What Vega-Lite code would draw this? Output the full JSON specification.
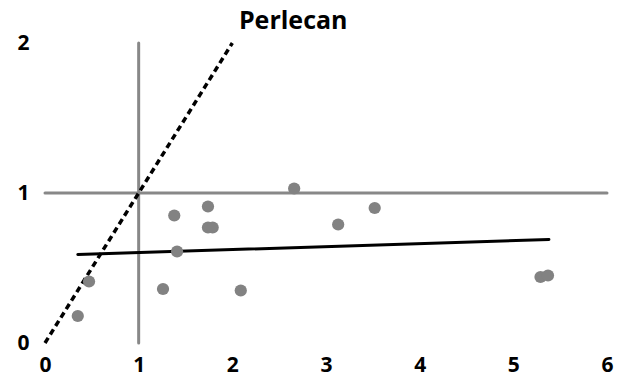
{
  "$schema": "https://vega.github.io/schema/vega-lite/v6.json",
  "autosize": {"type": "none"},
  "width": 562,
  "height": 330,
  "padding": {"left": 45, "top": 13, "right": 23, "bottom": 49},
  "config": {"view": {"stroke": null}, "font": "Open Sans"},
  "datasets": {
    "points": [
      {"x": 0.35, "y": 0.18}, {"x": 0.47, "y": 0.41}, {"x": 1.26, "y": 0.36},
      {"x": 1.38, "y": 0.85}, {"x": 1.41, "y": 0.61}, {"x": 1.74, "y": 0.91},
      {"x": 1.74, "y": 0.77}, {"x": 1.79, "y": 0.77}, {"x": 2.09, "y": 0.35},
      {"x": 2.66, "y": 1.03}, {"x": 3.13, "y": 0.79}, {"x": 3.52, "y": 0.90},
      {"x": 5.29, "y": 0.44}, {"x": 5.37, "y": 0.45}
    ],
    "vrule": [{"x": 1, "y": 0, "y2": 2}],
    "hrule": [{"x": 0, "x2": 6, "y": 1}],
    "diag": [{"x": 0, "y": 0}, {"x": 2, "y": 2}],
    "fit": [{"x": 0.35, "y": 0.59}, {"x": 5.38, "y": 0.69}],
    "label": [{"x": 2.65, "y": 2.15, "text": "Perlecan"}]
  },
  "layer": [
    {
      "data": {"name": "vrule"},
      "mark": {"type": "rule", "color": "#888888", "strokeWidth": 3, "strokeCap": "round"},
      "encoding": {
        "x": {"field": "x", "type": "quantitative", "scale": {"domain": [0, 6], "nice": false},
          "axis": {"values": [0, 1, 2, 3, 4, 5, 6], "format": "d", "domain": false, "ticks": false, "grid": false, "title": null,
            "labelFontSize": 21, "labelFontWeight": "bold", "labelColor": "#000000", "labelPadding": 11, "labelFlush": false}},
        "y": {"field": "y", "type": "quantitative", "scale": {"domain": [0, 2.2], "nice": false},
          "axis": {"values": [0, 1, 2], "format": "d", "domain": false, "ticks": false, "grid": false, "title": null,
            "labelFontSize": 21, "labelFontWeight": "bold", "labelColor": "#000000", "labelPadding": 16, "labelFlush": false}},
        "y2": {"field": "y2"}
      }
    },
    {
      "data": {"name": "hrule"},
      "mark": {"type": "rule", "color": "#888888", "strokeWidth": 3, "strokeCap": "round"},
      "encoding": {
        "x": {"field": "x", "type": "quantitative"},
        "x2": {"field": "x2"},
        "y": {"field": "y", "type": "quantitative"}
      }
    },
    {
      "data": {"name": "diag"},
      "mark": {"type": "line", "color": "#000000", "strokeWidth": 3.5, "strokeDash": [6, 4]},
      "encoding": {
        "x": {"field": "x", "type": "quantitative"},
        "y": {"field": "y", "type": "quantitative"}
      }
    },
    {
      "data": {"name": "fit"},
      "mark": {"type": "line", "color": "#000000", "strokeWidth": 3, "strokeCap": "round"},
      "encoding": {
        "x": {"field": "x", "type": "quantitative"},
        "y": {"field": "y", "type": "quantitative"}
      }
    },
    {
      "data": {"name": "points"},
      "mark": {"type": "circle", "color": "#828282", "opacity": 1, "size": 150},
      "encoding": {
        "x": {"field": "x", "type": "quantitative"},
        "y": {"field": "y", "type": "quantitative"}
      }
    },
    {
      "data": {"name": "label"},
      "mark": {"type": "text", "fontSize": 25, "fontWeight": "bold", "color": "#000000", "align": "center", "baseline": "middle"},
      "encoding": {
        "x": {"field": "x", "type": "quantitative"},
        "y": {"field": "y", "type": "quantitative"},
        "text": {"field": "text"}
      }
    }
  ]
}
